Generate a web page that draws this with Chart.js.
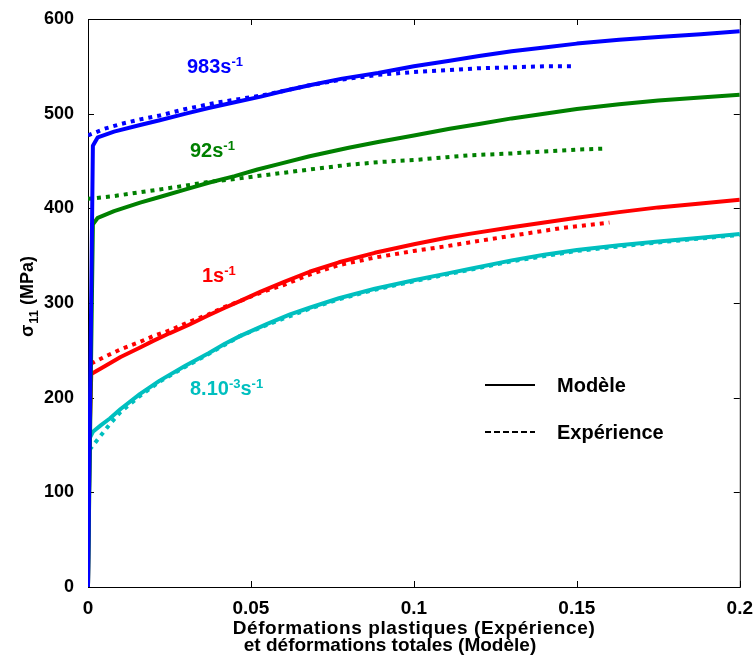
<!DOCTYPE html>
<html>
<head>
<meta charset="utf-8">
<script src="https://cdn.jsdelivr.net/npm/chart.js@4"></script>
<style>
  html, body { margin: 0; padding: 0; background: #fff; }
</style>
</head>
<body>
<canvas id="stressChart" width="755" height="662"></canvas>
<script>
// strain values (x) and stress in MPa (y)
const strain983Model = [0, 0.0015, 0.003, 0.008, 0.016, 0.022, 0.03, 0.037, 0.045, 0.053, 0.06, 0.068, 0.078, 0.089, 0.1, 0.111, 0.12, 0.13, 0.14, 0.15, 0.163, 0.175, 0.188, 0.2];
const stress983Model = [0, 466, 475, 481, 488, 493, 500, 506, 512, 518, 524, 530, 537, 543, 550, 556, 561, 566, 570, 574, 578, 581, 584, 587];
const strain983Exp = [0, 0.005, 0.01, 0.016, 0.022, 0.03, 0.04, 0.053, 0.06, 0.068, 0.078, 0.089, 0.1, 0.111, 0.12, 0.13, 0.14, 0.149];
const stress983Exp = [477, 484, 489, 494, 498, 505, 512, 519, 524, 530, 536, 541, 544, 546, 548, 549, 550, 550];

const strain92Model = [0, 0.0015, 0.003, 0.008, 0.016, 0.022, 0.03, 0.037, 0.045, 0.052, 0.0588, 0.068, 0.08, 0.089, 0.1, 0.111, 0.12, 0.13, 0.14, 0.15, 0.163, 0.175, 0.188, 0.2];
const stress92Model = [0, 383, 390, 397, 406, 412, 420, 427, 434, 441, 447, 455, 464, 470, 477, 484, 489, 495, 500, 505, 510, 514, 517, 520];
const strain92Exp = [0, 0.008, 0.016, 0.022, 0.03, 0.037, 0.045, 0.0588, 0.068, 0.08, 0.09, 0.1, 0.11, 0.117, 0.13, 0.14, 0.15, 0.158];
const stress92Exp = [410, 413, 417, 420, 424, 428, 431, 437, 441, 446, 449, 451, 454, 456, 458, 460, 462, 463];

const strain1Model = [0, 0.0005, 0.001, 0.005, 0.01, 0.016, 0.02, 0.025, 0.031, 0.037, 0.042, 0.0466, 0.053, 0.06, 0.068, 0.077, 0.088, 0.1, 0.11, 0.117, 0.13, 0.14, 0.15, 0.163, 0.175, 0.188, 0.2];
const stress1Model = [0, 160, 225, 233, 243, 253, 260, 268, 277, 287, 295, 302, 312, 322, 333, 343, 353, 362, 369, 373, 380, 385, 390, 396, 401, 405, 409];
const strain1Exp = [0.001, 0.005, 0.01, 0.016, 0.02, 0.025, 0.031, 0.037, 0.042, 0.0466, 0.053, 0.06, 0.068, 0.077, 0.088, 0.1, 0.11, 0.117, 0.13, 0.145, 0.16];
const stress1Exp = [236, 243, 251, 259, 265, 271, 280, 288, 296, 302, 311, 319, 330, 340, 348, 355, 360, 364, 371, 379, 385];

const strain8mModel = [0, 0.0005, 0.0015, 0.004, 0.0067, 0.01, 0.016, 0.022, 0.03, 0.037, 0.042, 0.0466, 0.055, 0.062, 0.068, 0.077, 0.088, 0.1, 0.11, 0.117, 0.13, 0.14, 0.15, 0.163, 0.175, 0.188, 0.2];
const stress8mModel = [0, 157, 164, 171, 178, 188, 204, 218, 234, 247, 257, 265, 278, 288, 295, 305, 315, 324, 331, 336, 345, 351, 356, 361, 365, 369, 373];
const strain8mExp = [0.0005, 0.003, 0.0067, 0.01, 0.016, 0.022, 0.03, 0.037, 0.0466, 0.055, 0.068, 0.077, 0.088, 0.1, 0.117, 0.13, 0.15, 0.175, 0.2];
const stress8mExp = [145, 156, 172, 185, 202, 217, 233, 246, 265, 277, 294, 304, 314, 323, 335, 344, 355, 364, 372];

const xTickValues = [0, 0.05, 0.1, 0.15, 0.2];
const yTickValues = [0, 100, 200, 300, 400, 500, 600];

const FONT = 'Arial, "Liberation Sans", Helvetica, sans-serif';
const BLUE = '#0000ff', GREEN = '#008000', RED = '#ff0000', CYAN = '#00bfbf';

const pts = (xs, ys) => xs.map((x, i) => ({ x: x, y: ys[i] }));

function solid(xs, ys, color) {
    return { data: pts(xs, ys), borderColor: color, borderWidth: 4, showLine: true,
             pointRadius: 0, tension: 0, borderJoinStyle: 'round', fill: false };
}
function dotted(xs, ys, color) {
    return { data: pts(xs, ys), borderColor: color, borderWidth: 4, showLine: true,
             borderDash: [4, 5], pointRadius: 0, tension: 0, fill: false };
}

// text with superscripts, parts = [[text, isSup], ...]
function drawRich(ctx, x, y, parts, color) {
    ctx.fillStyle = color;
    ctx.textBaseline = 'alphabetic';
    ctx.textAlign = 'left';
    parts.forEach(([t, sup]) => {
        ctx.font = sup ? `bold 13px ${FONT}` : `bold 20px ${FONT}`;
        ctx.fillText(t, x, sup ? y - 7 : y);
        x += ctx.measureText(t).width;
    });
}

// box with inward ticks, like the original figure
const frame = {
    id: 'frame',
    beforeDatasetsDraw(chart) {
        const { ctx, chartArea: a, scales: { x, y } } = chart;
        ctx.save();
        ctx.strokeStyle = '#000';
        ctx.lineWidth = 1;
        ctx.strokeRect(a.left + 0.5, a.top + 0.5, a.right - a.left, a.bottom - a.top);
        ctx.beginPath();
        xTickValues.forEach(v => {
            const px = Math.round(x.getPixelForValue(v)) + 0.5;
            ctx.moveTo(px, a.bottom); ctx.lineTo(px, a.bottom - 6);
            ctx.moveTo(px, a.top); ctx.lineTo(px, a.top + 6);
        });
        yTickValues.forEach(v => {
            const py = Math.round(y.getPixelForValue(v)) + 0.5;
            ctx.moveTo(a.left, py); ctx.lineTo(a.left + 6, py);
            ctx.moveTo(a.right, py); ctx.lineTo(a.right - 6, py);
        });
        ctx.stroke();
        ctx.restore();
    },
    afterDraw(chart) {
        const ctx = chart.ctx;
        ctx.save();
        // curve labels
        drawRich(ctx, 187, 73, [['983s', false], ['-1', true]], BLUE);
        drawRich(ctx, 190, 157, [['92s', false], ['-1', true]], GREEN);
        drawRich(ctx, 202, 282, [['1s', false], ['-1', true]], RED);
        drawRich(ctx, 190, 395, [['8.10', false], ['-3', true], ['s', false], ['-1', true]], CYAN);

        // legend
        ctx.strokeStyle = '#000';
        ctx.lineWidth = 2;
        ctx.beginPath(); ctx.moveTo(485, 385); ctx.lineTo(535, 385); ctx.stroke();
        ctx.setLineDash([6, 3]);
        ctx.beginPath(); ctx.moveTo(485, 432); ctx.lineTo(535, 432); ctx.stroke();
        ctx.setLineDash([]);
        ctx.fillStyle = '#000';
        ctx.font = `bold 20px ${FONT}`;
        ctx.textBaseline = 'middle';
        ctx.textAlign = 'left';
        ctx.fillText('Modèle', 557, 386);
        ctx.fillText('Expérience', 557, 433);

        // x title, two lines
        ctx.textBaseline = 'alphabetic';
        ctx.textAlign = 'center';
        ctx.font = `bold 19px ${FONT}`;
        ctx.letterSpacing = '0.6px';
        ctx.fillText('Déformations plastiques (Expérience)', 414, 634);
        ctx.letterSpacing = '0px';
        ctx.fillText('et déformations totales (Modèle)', 390, 651);

        // y title: sigma_11 (MPa), rotated
        ctx.translate(27, 337);
        ctx.rotate(-Math.PI / 2);
        ctx.textAlign = 'left';
        ctx.font = `bold 18px ${FONT}`;
        ctx.fillText('σ', 0, 6);
        let w = ctx.measureText('σ').width;
        ctx.font = `bold 13px ${FONT}`;
        ctx.fillText('11', w + 1, 11);
        w += ctx.measureText('11').width + 1;
        ctx.font = `bold 18px ${FONT}`;
        ctx.fillText(' (MPa)', w, 6);
        ctx.restore();
    }
};

new Chart(document.getElementById('stressChart').getContext('2d'), {
    type: 'scatter',
    data: {
        datasets: [
            dotted(strain983Exp, stress983Exp, BLUE),
            solid(strain983Model, stress983Model, BLUE),
            dotted(strain92Exp, stress92Exp, GREEN),
            solid(strain92Model, stress92Model, GREEN),
            solid(strain8mModel, stress8mModel, CYAN),
            dotted(strain8mExp, stress8mExp, CYAN),
            dotted(strain1Exp, stress1Exp, RED),
            solid(strain1Model, stress1Model, RED)
        ]
    },
    options: {
        responsive: false,
        animation: false,
        layout: { padding: { top: 19, right: 6, left: 0, bottom: 0 } },
        plugins: { legend: { display: false }, tooltip: { enabled: false } },
        scales: {
            x: {
                type: 'linear', min: 0, max: 0.2,
                grid: { display: false }, border: { display: false },
                afterBuildTicks: s => { s.ticks = xTickValues.map(v => ({ value: v })); },
                ticks: {
                    color: '#000', padding: 2, maxRotation: 0,
                    font: { family: FONT, size: 19, weight: 'bold' },
                    callback: v => String(+v.toFixed(2))
                },
                afterFit: s => { s.height = 75; }
            },
            y: {
                type: 'linear', min: 0, max: 600,
                grid: { display: false }, border: { display: false },
                afterBuildTicks: s => { s.ticks = yTickValues.map(v => ({ value: v })); },
                ticks: {
                    color: '#000', padding: 6,
                    font: { family: FONT, size: 18, weight: 'bold' }
                },
                afterFit: s => { s.width = 88; }
            }
        }
    },
    plugins: [frame]
});
</script>
</body>
</html>
